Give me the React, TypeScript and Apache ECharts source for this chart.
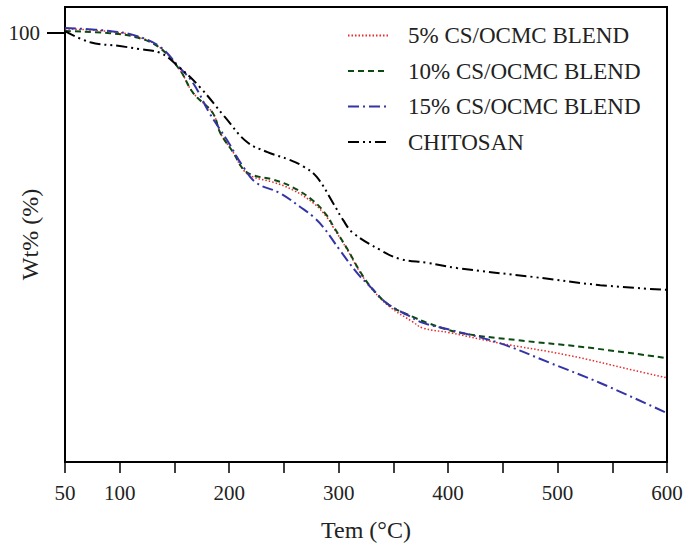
import React, { useEffect, useRef } from "react";
import * as echarts from "echarts";

const xTickLabels = [50, 100, 200, 300, 400, 500, 600];
const yTickLabels = [100];

const seriesNames = ["5% CS/OCMC BLEND", "10% CS/OCMC BLEND", "15% CS/OCMC BLEND", "CHITOSAN"];

const temp5 = [50, 91, 116, 137, 155, 167, 185, 192, 204, 213, 222, 240, 258, 277, 289, 295, 308, 320, 331, 347, 368, 377, 402, 447, 509, 569, 600];
const wt5 = [100.9, 100.3, 99.1, 96.5, 91.3, 86.0, 81.3, 76.6, 72.0, 68.0, 66.4, 65.2, 63.4, 60.3, 57.1, 54.7, 49.4, 44.0, 40.1, 36.1, 32.6, 31.2, 30.1, 27.7, 24.9, 21.4, 19.6];

const temp10 = [50, 91, 116, 137, 155, 167, 185, 192, 204, 213, 222, 240, 258, 277, 289, 295, 308, 320, 331, 347, 368, 381, 411, 463, 523, 600];
const wt10 = [100.4, 99.9, 98.9, 96.4, 91.3, 86.0, 81.3, 76.6, 72.0, 68.2, 66.8, 65.8, 64.0, 60.8, 57.5, 55.0, 49.6, 44.2, 40.3, 36.4, 33.8, 32.4, 30.1, 28.4, 26.8, 24.2];

const temp15 = [50, 91, 116, 137, 155, 167, 182, 198, 213, 225, 246, 265, 277, 286, 301, 317, 329, 344, 363, 377, 402, 447, 493, 539, 600];
const wt15 = [101.1, 100.4, 99.2, 96.7, 91.8, 88.3, 81.3, 75.0, 68.7, 65.0, 62.7, 59.4, 57.1, 54.7, 49.4, 44.0, 40.8, 37.0, 34.2, 32.4, 30.8, 27.7, 23.1, 18.4, 11.4];

const tempCS = [50, 73, 100, 118, 137, 152, 173, 196, 216, 235, 255, 268, 280, 295, 304, 313, 338, 356, 381, 408, 478, 539, 600];
const wtCS = [100.4, 97.8, 96.9, 96.2, 95.3, 92.5, 87.4, 80.4, 74.6, 72.2, 70.4, 68.8, 66.4, 60.3, 56.4, 53.4, 49.4, 47.3, 46.4, 45.2, 43.1, 41.2, 40.1];

const zip = (xs: number[], ys: number[]) => xs.map((x, i) => [x, ys[i]]);

const FONT = "'Liberation Serif', 'Times New Roman', serif";

export default function App() {
  const ref = useRef<HTMLDivElement>(null);
  useEffect(() => {
    if (!ref.current) return;
    const chart = echarts.init(ref.current, undefined, { renderer: "svg" });
    const mk = (name: string, data: number[][], color: string, type: any, width: number) => ({
      name,
      type: "line",
      data,
      showSymbol: false,
      symbol: "none",
      smooth: 0.4,
      lineStyle: { color, type, width },
      itemStyle: { color },
      z: 3,
    });
    chart.setOption({
      animation: false,
      backgroundColor: "#fff",
      grid: {
        left: 65,
        right: 18,
        top: 7,
        bottom: 81,
        containLabel: false,
        outerBoundsMode: "none",
        show: true,
        borderColor: "#000",
        borderWidth: 2,
      },
      legend: {
        orient: "vertical",
        left: 347,
        top: 24,
        padding: 0,
        itemWidth: 40,
        itemHeight: 14,
        itemGap: 12.5,
        itemStyle: { opacity: 0 },
        textStyle: { fontFamily: FONT, fontSize: 23, color: "#222", lineHeight: 23, padding: [0, 0, 0, 15] },
        data: seriesNames,
      },
      xAxis: {
        type: "value",
        min: 50,
        max: 600,
        interval: 50,
        name: "Tem (°C)",
        nameLocation: "middle",
        nameGap: 56,
        nameMoveOverlap: false,
        nameTextStyle: { fontFamily: FONT, fontSize: 24, color: "#222" },
        axisLine: { show: true, lineStyle: { color: "#000", width: 2 } },
        axisTick: { show: true, inside: false, length: 11, lineStyle: { color: "#000", width: 1.5 } },
        axisLabel: {
          customValues: xTickLabels,
          margin: 20,
          fontFamily: FONT,
          fontSize: 21,
          color: "#222",
        },
        splitLine: { show: false },
      },
      yAxis: {
        type: "value",
        min: 0,
        max: 106,
        interval: 100,
        name: "Wt% (%)",
        nameLocation: "middle",
        nameGap: 23,
        nameMoveOverlap: false,
        nameTextStyle: { fontFamily: FONT, fontSize: 24, color: "#222" },
        axisLine: { show: true, lineStyle: { color: "#000", width: 2 } },
        axisTick: { show: true, customValues: yTickLabels, length: 18, lineStyle: { color: "#000", width: 2 } },
        axisLabel: {
          customValues: yTickLabels,
          margin: 25,
          fontFamily: FONT,
          fontSize: 21,
          color: "#222",
        },
        splitLine: { show: false },
      },
      series: [
        mk(seriesNames[0], zip(temp5, wt5), "#e82a2a", [1.5, 2], 1.5),
        mk(seriesNames[1], zip(temp10, wt10), "#0d4a12", [6, 4], 2),
        mk(seriesNames[2], zip(temp15, wt15), "#3434a6", [11, 4, 2, 4], 2),
        mk(seriesNames[3], zip(tempCS, wtCS), "#000000", [11, 4, 2, 4, 2, 4], 2),
      ],
    });
    return () => chart.dispose();
  }, []);
  return (
    <div
      ref={ref}
      style={{ position: "fixed", left: 0, top: 0, width: 685, height: 543, background: "#fff" }}
    />
  );
}
